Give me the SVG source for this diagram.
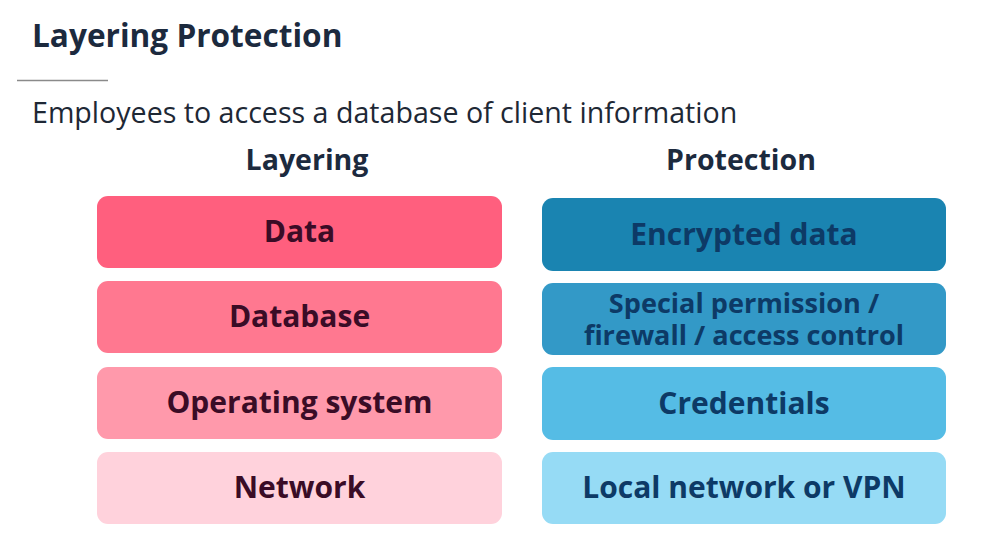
<svg xmlns="http://www.w3.org/2000/svg" width="1007" height="539" viewBox="0 0 1007 539">
<style>
.t{font-family:"Open Sans","Liberation Sans",sans-serif}
.h{font-weight:700;fill:#1c2a3e}
.lb{font-family:"Open Sans","Liberation Sans",sans-serif;font-weight:700;font-size:30px;text-anchor:middle}
.sm{font-size:27.1px}
.l{fill:#3a0c26}
.r{fill:#0d3a66}
</style>
<rect width="1007" height="539" fill="#ffffff"/>
<text class="t h" x="32" y="47" font-size="31.6">Layering Protection</text>
<line x1="17" y1="80.5" x2="108" y2="80.5" stroke="#8a8a8a" stroke-width="1.5"/>
<text class="t" x="32" y="123" font-size="28.6" fill="#1e2835">Employees to access a database of client information</text>
<text class="t h" x="307" y="170" font-size="28.5" text-anchor="middle">Layering</text>
<text class="t h" x="741" y="170" font-size="28.5" text-anchor="middle">Protection</text>
<g id="data"><rect x="97" y="196" width="405" height="72" rx="11" fill="#ff5f7e"/><text class="lb l" x="299.5" y="242">Data</text></g>
<g id="database"><rect x="97" y="281" width="405" height="72" rx="11" fill="#ff7890"/><text class="lb l" x="299.5" y="327">Database</text></g>
<g id="os"><rect x="97" y="367" width="405" height="72" rx="11" fill="#ff99ab"/><text class="lb l" x="299.5" y="413">Operating system</text></g>
<g id="network"><rect x="97" y="452" width="405" height="72" rx="11" fill="#ffd2dc"/><text class="lb l" x="299.5" y="498">Network</text></g>
<g id="encrypted"><rect x="542" y="198" width="404" height="73" rx="11" fill="#1a84b1"/><text class="lb r" x="744" y="245">Encrypted data</text></g>
<g id="special"><rect x="542" y="283" width="404" height="72" rx="11" fill="#3399c7"/><text class="lb sm r" x="744" y="313">Special permission /</text><text class="lb sm r" x="744" y="345">firewall / access control</text></g>
<g id="credentials"><rect x="542" y="367" width="404" height="73" rx="11" fill="#55bce5"/><text class="lb r" x="744" y="414">Credentials</text></g>
<g id="local"><rect x="542" y="452" width="404" height="72" rx="11" fill="#96dbf5"/><text class="lb r" x="744" y="498">Local network or VPN</text></g>
<g id="connectors"></g>
</svg>
